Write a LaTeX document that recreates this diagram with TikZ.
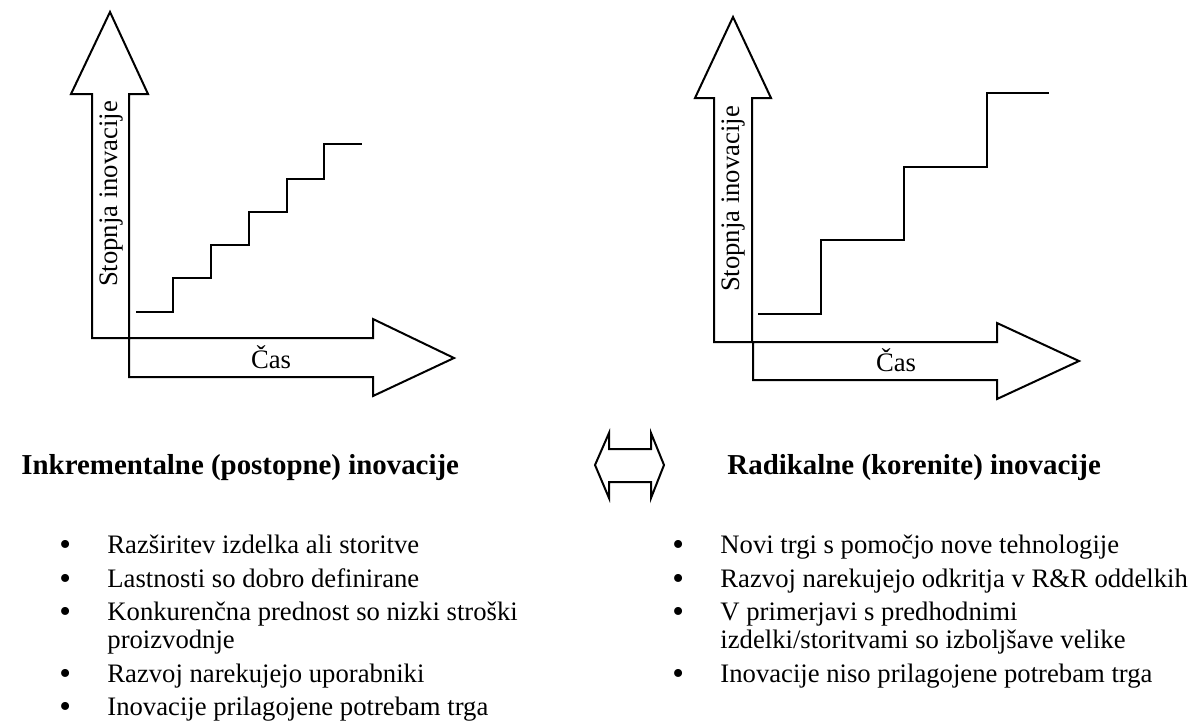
\documentclass[tikz,border=0pt]{standalone}
\usepackage{fontspec}
\setmainfont{Liberation Serif}
\begin{document}
\begin{tikzpicture}[x=0.45pt,y=-0.45pt,
  outline/.style={draw=black,line width=0.9pt,line join=miter},
  stair/.style={draw=black,line width=0.9pt},
  lbl/.style={font=\fontsize{12}{14}\selectfont,inner sep=0pt},
  ttl/.style={font=\fontsize{13}{15}\selectfont\bfseries,inner sep=0pt,anchor=base west},
  itm/.style={font=\fontsize{12}{14}\selectfont,inner sep=0pt,anchor=base west},
  dot/.style={font=\fontsize{15}{16}\selectfont,inner sep=0pt,anchor=base west},
  ]
\useasboundingbox (0,0) rectangle (1197,721);

% ---------- left chart: incremental ----------
\draw[outline] (92,338) -- (92,94) -- (71,94) -- (110,12) -- (148,94) -- (129,94) -- (129,338) -- cycle;
\draw[outline] (129,338) -- (373,338) -- (373,319) -- (454,358) -- (373,396) -- (373,377) -- (129,377) -- cycle;
\draw[stair] (136,312) -- (173,312) -- (173,278) -- (211,278) -- (211,245) -- (249,245) -- (249,212)
  -- (287,212) -- (287,179) -- (324,179) -- (324,144) -- (362,144);
\node[lbl,rotate=90] (ly) at (112,194) {Stopnja inovacije};
\node[lbl] (lx) at (271,357) {Čas};

% ---------- right chart: radical ----------
\draw[outline] (714,342) -- (714,98) -- (695,98) -- (733,17) -- (771,98) -- (752,98) -- (752,342) -- cycle;
\draw[outline] (753,342) -- (997,342) -- (997,323) -- (1079,361) -- (997,399) -- (997,380) -- (753,380) -- cycle;
\draw[stair] (758,314) -- (821,314) -- (821,240) -- (904,240) -- (904,167) -- (987,167) -- (987,93) -- (1049,93);
\node[lbl,rotate=90] (ry) at (733,199) {Stopnja inovacije};
\node[lbl] (rx) at (896,360) {Čas};

% ---------- double arrow between the headings ----------
\draw[outline] (595,465) -- (609,433) -- (609,449) -- (651,449) -- (651,433) -- (664,465)
  -- (651,498) -- (651,482) -- (609,482) -- (609,498) -- cycle;

% ---------- headings ----------
\node[ttl] (lt) at (21,474) {Inkrementalne (postopne) inovacije};
\node[ttl] (rt) at (727,474) {Radikalne (korenite) inovacije};

% ---------- left list ----------
\node[dot] (lb1) at (59,555) {•};
\node[itm] (li1) at (107,553) {Razširitev izdelka ali storitve};
\node[dot] (lb2) at (59,589) {•};
\node[itm] (li2) at (107,587) {Lastnosti so dobro definirane};
\node[dot] (lb3) at (59,622) {•};
\node[itm] (li3) at (107,620) {Konkurenčna prednost so nizki stroški};
\node[itm] (li3b) at (107,648) {proizvodnje};
\node[dot] (lb4) at (59,684) {•};
\node[itm] (li4) at (107,682) {Razvoj narekujejo uporabniki};
\node[dot] (lb5) at (59,717) {•};
\node[itm] (li5) at (107,715) {Inovacije prilagojene potrebam trga};

% ---------- right list ----------
\node[dot] (rb1) at (672,555) {•};
\node[itm] (ri1) at (720,553) {Novi trgi s pomočjo nove tehnologije};
\node[dot] (rb2) at (672,589) {•};
\node[itm] (ri2) at (720,587) {Razvoj narekujejo odkritja v R\&R oddelkih};
\node[dot] (rb3) at (672,622) {•};
\node[itm] (ri3) at (720,620) {V primerjavi s predhodnimi};
\node[itm] (ri3b) at (720,648) {izdelki/storitvami so izboljšave velike};
\node[dot] (rb4) at (672,684) {•};
\node[itm] (ri4) at (720,682) {Inovacije niso prilagojene potrebam trga};
\end{tikzpicture}
\end{document}
